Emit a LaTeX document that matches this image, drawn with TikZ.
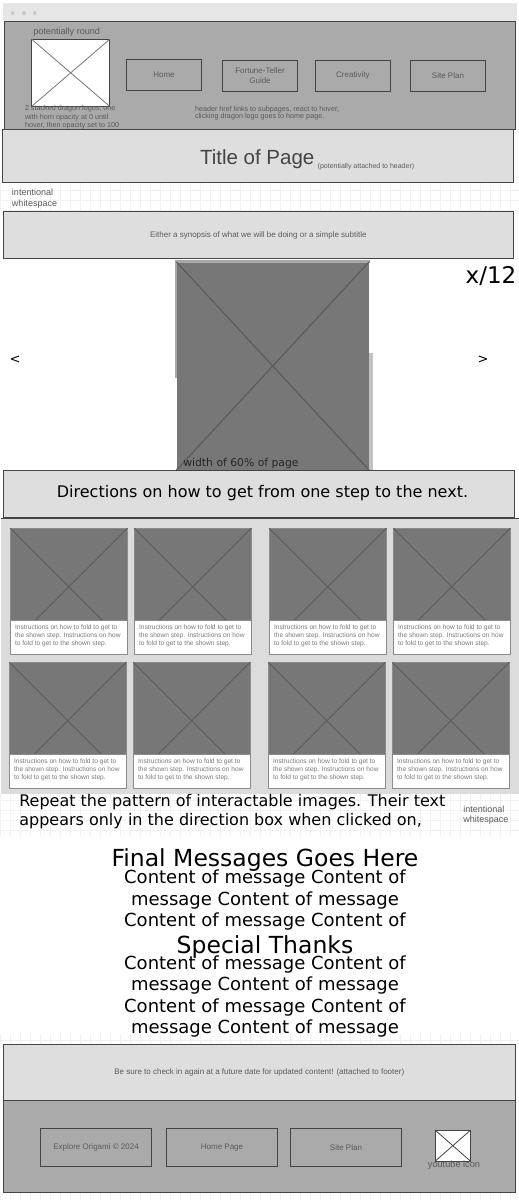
\documentclass[tikz,border=0pt]{standalone}
\usepackage{fontspec}
\setmainfont{Liberation Sans}
\newfontfamily\djv{DejaVu Sans}
\usetikzlibrary{fit}
\newcommand\fsz[2]{\fontsize{#1}{#2}\selectfont}
\definecolor{hdr}{HTML}{AAAAAA}
\definecolor{boxg}{HTML}{DEDEDE}
\definecolor{edge}{HTML}{444444}
\definecolor{txtg}{HTML}{5A5A5A}
\definecolor{captxt}{HTML}{7A7A7A}
\definecolor{imgg}{HTML}{777777}
\definecolor{panelc}{HTML}{DCDCDC}
\definecolor{cardedge}{HTML}{8C8C8C}
\definecolor{cardx}{HTML}{5C5C5C}
\definecolor{ttl}{HTML}{444444}
\definecolor{barc}{HTML}{E6E6E6}
\definecolor{dotc}{HTML}{C9C9C9}
\definecolor{gridc}{HTML}{F1F1F1}
\definecolor{lightedge}{HTML}{A8A8A8}
\begin{document}
\begin{tikzpicture}[x=1pt,y=-1pt,
  every node/.style={inner sep=0pt, outer sep=0pt},
  framebox/.style={draw=edge, line width=1pt},
  navbtn/.style={draw=edge, line width=1pt},
  btntxt/.style={font=\fsz{8}{10}, text=txtg, align=center},
  notetxt/.style={anchor=north west, align=left, text=txtg},
  bigtxt/.style={font=\djv\fsz{18}{21.7}, text=black, anchor=base},
  headtxt/.style={font=\djv\fsz{23.5}{26}, text=black, anchor=base},
  xline/.style={draw=#1, line width=0.8pt},
  capstyle/.style={anchor=north west, align=left, font=\fsz{6.6}{7.7}, text=captxt}
]
\useasboundingbox (0,0) rectangle (519,1200);
\fill[white] (0,0) rectangle (519,1200);
% faint grid strips
\foreach \ya/\yb in {182/211, 794/836, 1034/1044, 1192/1200}
  \draw[gridc, line width=0.5pt, step=10pt] (0,\yb) grid (519,\ya);
% browser bar
\node[fill=barc, fit={(3,3)(517,21)}] (bar) {};
\fill[dotc] (12.7,13) circle (2pt) (24,13) circle (2pt) (34.7,13) circle (2pt);
% header
\node[framebox, fill=hdr, fit={(4,21)(515.3,129.3)}] (header) {};
\node[draw=edge, line width=1pt, fill=white, fit={(31.7,39.3)(109.7,106.3)}] (logo) {};
\draw[xline=imgg] (logo.north west) -- (logo.south east) (logo.north east) -- (logo.south west);
\node[anchor=base west, font=\fsz{9.1}{11}, text=txtg] (round) at (33.3,34) {potentially round};
\node[navbtn, fit={(126.3,59.3)(201.7,90.3)}] (home) {};
\node[btntxt] (hometxt) at (home.center) {Home};
\node[navbtn, fit={(222.3,60.3)(297.7,91.4)}] (fortune) {};
\node[btntxt] (fortunetxt) at (fortune.center) {Fortune-Teller\\Guide};
\node[navbtn, fit={(315,60.3)(390.7,91.4)}] (creativity) {};
\node[btntxt] (creativitytxt) at (creativity.center) {Creativity};
\node[navbtn, fit={(410.3,60.3)(485.7,91.4)}] (siteplan) {};
\node[btntxt] (siteplantxt) at (siteplan.center) {Site Plan};
\node[notetxt, font=\fsz{7.2}{8.5}] (note1) at (25,105.6) {2 stacked dragon logos, one\\with horn opacity at 0 until\\hover, then opacity set to 100};
\node[notetxt, font=\fsz{7.2}{7.6}] (note2) at (195,105.8) {header href links to subpages, react to hover,\\clicking dragon logo goes to home page.};
% title
\node[framebox, fill=boxg, fit={(2.7,129.3)(513.3,182.3)}] (title) {};
\node[anchor=base west, font=\fsz{20.5}{24}, text=ttl] (titletxt) at (200,164.3) {Title of Page};
\node[anchor=base west, font=\fsz{7}{8}, text=txtg] (titlenote) at (317.7,168) {(potentially attached to header)};
\node[notetxt, font=\fsz{9}{10.7}] (ws1) at (12,189.2) {intentional\\whitespace};
% synopsis
\node[framebox, fill=boxg, fit={(3.3,211.7)(513.3,258.3)}] (syn) {};
\node[btntxt] (syntxt) at (syn.center) {Either a synopsis of what we will be doing or a simple subtitle};
% main image
\node[fill=imgg, fit={(176.5,262)(369,470)}] (mainimg) {};
\fill[lightedge] (175,260) rectangle (370,262.5);
\fill[lightedge] (175,260) rectangle (177.2,378);
\fill[lightedge!70!white] (368.5,353) rectangle (372.5,470);
\draw[xline=cardx, line width=1.2pt] (mainimg.north west) -- (mainimg.south east) (mainimg.north east) -- (mainimg.south west);
\node[anchor=base west, font=\djv\fsz{10.8}{12}, text=black!85] (widthtxt) at (183.3,466.5) {width of 60\% of page};
\node[anchor=base west, font=\djv\fsz{23}{26}] (count) at (465.7,283.3) {x/12};
\node[font=\djv\fsz{13}{15}] (prev) at (15,360) {<};
\node[font=\djv\fsz{13}{15}] (next) at (483,360) {>};
% directions
\node[framebox, fill=boxg, fit={(3.3,470.3)(514.3,517.3)}] (dirs) {};
\node[anchor=base, font=\djv\fsz{16}{19}] (dirstxt) at (262.5,497.3) {Directions on how to get from one step to the next.};
% grid panel
\node[fill=panelc, fit={(1,518.5)(519,794)}] (gridpanel) {};
\draw[edge, line width=1pt] (gridpanel.north west) -- (gridpanel.north east);
\foreach \cx/\cy/\nm in {10/528/a, 134/528/b, 269/528/c, 393/528/d, 9/662/e, 133/662/f, 268/662/g, 392/662/h} {
  \node[fill=imgg, draw=cardedge, line width=1pt, fit={(\cx,\cy)({\cx+117.5},{\cy+92.5})}] (img\nm) {};
  \begin{scope}
    \clip (img\nm.north west) rectangle (img\nm.south east);
    \draw[xline=cardx] (img\nm.north west) -- ++(117.5,117.5) (img\nm.north east) -- ++(-117.5,117.5);
  \end{scope}
  \node[fill=white, draw=cardedge, line width=1pt, fit={(\cx,{\cy+92.5})({\cx+117.5},{\cy+126.5})}] (cap\nm) {};
  \node[capstyle] (capt\nm) at ([xshift=5pt,yshift=-4.5pt]cap\nm.north west) {Instructions on how to fold to get to\\the shown step. Instructions on how\\to fold to get to the shown step.};
}
% repeat text
\node[anchor=base west, font=\djv\fsz{16}{18}] (rep1) at (19.3,806.7) {Repeat the pattern of interactable images. Their text};
\node[anchor=base west, font=\djv\fsz{16}{18}] (rep2) at (19.3,825) {appears only in the direction box when clicked on,};
\node[notetxt, font=\fsz{9}{9.5}] (ws2) at (463.3,806.4) {intentional\\whitespace};
% final messages
\node[headtxt] (final) at (265,866.7) {Final Messages Goes Here};
\foreach \t [count=\i from 0] in {{Content of message Content of},{message Content of message},{Content of message Content of}}
  \node[bigtxt] (fm\i) at (265,{883.3+21.7*\i}) {\t};
\node[headtxt] (thanks) at (265,953.3) {Special Thanks};
\foreach \t [count=\i from 0] in {{Content of message Content of},{message Content of message},{Content of message Content of},{message Content of message}}
  \node[bigtxt] (st\i) at (265,{969.3+21.5*\i}) {\t};
% footer
\node[framebox, fill=hdr, fit={(3.3,1100.3)(515.3,1192.3)}] (footer) {};
\node[framebox, fill=boxg, fit={(3.3,1044.3)(515.3,1100.3)}] (footmsg) {};
\node[btntxt] (footmsgtxt) at (footmsg.center) {Be sure to check in again at a future date for updated content! (attached to footer)};
\node[navbtn, fit={(40.3,1128.3)(151.7,1166.3)}] (copy) {};
\node[btntxt] (copytxt) at (copy.center) {Explore Origami © 2024};
\node[navbtn, fit={(166.3,1128.3)(277.7,1166.3)}] (homepage) {};
\node[btntxt] (homepagetxt) at (homepage.center) {Home Page};
\node[navbtn, fit={(290.3,1128.3)(401.7,1166.3)}] (siteplan2) {};
\node[btntxt] (siteplan2txt) at (siteplan2.center) {Site Plan};
\node[draw=edge, line width=1pt, fill=white, fit={(435,1130)(470.7,1161.3)}] (yt) {};
\draw[xline=edge] (yt.north west) -- (yt.south east) (yt.north east) -- (yt.south west);
\node[font=\fsz{9.2}{11}, text=txtg] (yttxt) at (454,1165) {youtube icon};
\end{tikzpicture}
\end{document}
